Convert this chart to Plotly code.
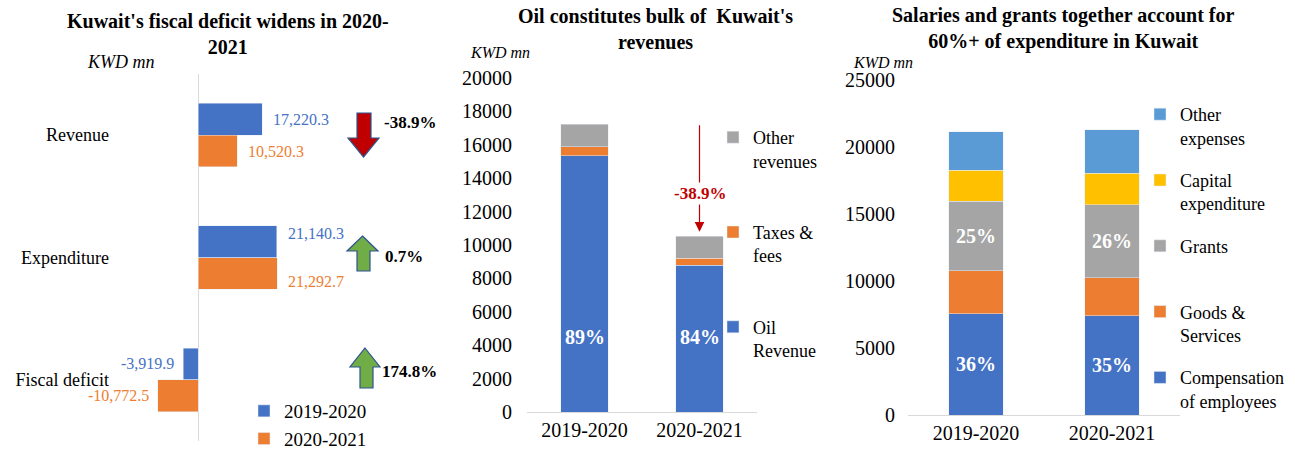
import plotly.graph_objects as go

# ---- data (KWD mn) ----
measures = ["Revenue", "Expenditure", "Fiscal deficit"]
periods = ["2019-2020", "2020-2021"]
values_1920 = [17220.3, 21140.3, -3919.9]
values_2021 = [10520.3, 21292.7, -10772.5]

# revenue composition
oil_revenue = [15330.0, 8800.0]
taxes_fees = [540.0, 420.0]
other_revenues = [1350.3, 1300.3]

# expenditure composition
compensation = [7550.0, 7400.0]
goods_services = [3200.0, 2830.0]
grants = [5200.0, 5450.0]
capital_exp = [2330.0, 2380.0]
other_expenses = [2860.3, 3232.7]

# ---- styling ----
W, H = 1295, 450
FONT = "Liberation Serif, Times New Roman, serif"
BLUE = "#4472C4"
ORANGE = "#ED7D31"
GRAY = "#A5A5A5"
GOLD = "#FFC000"
LBLUE = "#5B9BD5"
RED = "#C00000"
GREEN = "#70AD47"
OUTLINE = "#2F528F"
AXIS = "#D9D9D9"


def fx(p):
    return p / W


def fy(p):
    return 1 - p / H


def pct(part, whole):
    return [f"{round(a / b * 100)}%" for a, b in zip(part, whole)]


rev_total = [a + b + c for a, b, c in zip(oil_revenue, taxes_fees, other_revenues)]
exp_total = [a + b + c + d + e for a, b, c, d, e in
             zip(compensation, goods_services, grants, capital_exp, other_expenses)]

fig = go.Figure()

# ---- left panel: grouped horizontal bars ----
BAR_T = 0.26
fig.add_trace(go.Bar(y=measures, x=values_1920, orientation="h", name=periods[0],
                     marker_color=BLUE, offset=-BAR_T, width=BAR_T,
                     xaxis="x", yaxis="y", legend="legend", hoverinfo="skip"))
fig.add_trace(go.Bar(y=measures, x=values_2021, orientation="h", name=periods[1],
                     marker_color=ORANGE, offset=0, width=BAR_T,
                     xaxis="x", yaxis="y4", legend="legend", hoverinfo="skip"))

# ---- middle panel: revenue stack (legend lists top segment first) ----
W2 = 0.41
fig.add_trace(go.Bar(x=periods, y=oil_revenue, name="Oil<br>Revenue", marker_color=BLUE,
                     width=W2, xaxis="x2", yaxis="y2", legend="legend2",
                     legendgroup="oil", legendrank=3, hoverinfo="skip"))
fig.add_trace(go.Bar(x=periods, y=taxes_fees, name="Taxes &<br>fees", marker_color=ORANGE,
                     width=W2, xaxis="x2", yaxis="y2", legend="legend2",
                     legendgroup="tax", legendrank=2, hoverinfo="skip"))
fig.add_trace(go.Bar(x=periods, y=other_revenues, name="Other<br>revenues", marker_color=GRAY,
                     width=W2, xaxis="x2", yaxis="y2", legend="legend2",
                     legendgroup="oth", legendrank=1, hoverinfo="skip"))

# ---- right panel: expenditure stack ----
W3 = 0.40
inside_font = dict(family=FONT, size=20, color="white")
fig.add_trace(go.Bar(x=periods, y=compensation, name="Compensation<br>of employees",
                     marker_color=BLUE, width=W3, xaxis="x3", yaxis="y3",
                     text=[f"<b>{t}</b>" for t in pct(compensation, exp_total)],
                     textposition="inside", insidetextanchor="middle", textangle=0,
                     textfont=inside_font, legend="legend3", legendgroup="c",
                     legendrank=5, hoverinfo="skip"))
fig.add_trace(go.Bar(x=periods, y=goods_services, name="Goods &<br>Services",
                     marker_color=ORANGE, width=W3, xaxis="x3", yaxis="y3",
                     legend="legend3", legendgroup="g", legendrank=4, hoverinfo="skip"))
fig.add_trace(go.Bar(x=periods, y=grants, name="Grants<br>\u00a0",
                     marker_color=GRAY, width=W3, xaxis="x3", yaxis="y3",
                     text=[f"<b>{t}</b>" for t in pct(grants, exp_total)],
                     textposition="inside", insidetextanchor="middle", textangle=0,
                     textfont=inside_font, legend="legend3", legendgroup="gr",
                     legendrank=3, hoverinfo="skip"))
fig.add_trace(go.Bar(x=periods, y=capital_exp, name="Capital<br>expenditure",
                     marker_color=GOLD, width=W3, xaxis="x3", yaxis="y3",
                     legend="legend3", legendgroup="k", legendrank=2, hoverinfo="skip"))
fig.add_trace(go.Bar(x=periods, y=other_expenses, name="Other<br>expenses",
                     marker_color=LBLUE, width=W3, xaxis="x3", yaxis="y3",
                     legend="legend3", legendgroup="o", legendrank=1, hoverinfo="skip"))

annotations = []
shapes = []

# titles
title_font = dict(family=FONT, size=20, color="black")
for text, cx, cy in [
    ("<b>Kuwait's fiscal deficit widens in 2020-<br>2021</b>", 228, 34),
    ("<b>Oil constitutes bulk of  Kuwait's<br>revenues</b>", 655, 29),
    ("<b>Salaries and grants together account for<br>60%+ of expenditure in Kuwait</b>", 1063, 29),
]:
    annotations.append(dict(text=text, x=fx(cx), y=fy(cy), xref="paper", yref="paper",
                            xanchor="center", yanchor="middle", showarrow=False,
                            font=title_font))

# unit labels
for cx, cy, size in [(121, 62, 18), (500, 53, 16), (883, 62, 16)]:
    annotations.append(dict(text="<i>KWD mn</i>", x=fx(cx), y=fy(cy), xref="paper",
                            yref="paper", xanchor="center", yanchor="middle",
                            showarrow=False, font=dict(family=FONT, size=size, color="black")))

# left panel value labels
label_shift = {"Expenditure": 24}
for vals, color, sign in [(values_1920, BLUE, 1), (values_2021, ORANGE, -1)]:
    for m, v in zip(measures, vals):
        dy = label_shift.get(m, 16)
        annotations.append(dict(
            text=f"{v:,.1f}", x=v, y=m, xref="x", yref="y",
            xanchor="left" if v >= 0 else "right",
            xshift=9 if v >= 0 else -7, yshift=sign * dy, showarrow=False,
            font=dict(family=FONT, size=16, color=color)))


# change arrows and percentages on the left panel
def block_arrow(xl, xr, yt, yb, sl, sr, neck, up, fill):
    xc = (xl + xr) / 2
    if up:
        pts = [(xc, yt), (xr, neck), (sr, neck), (sr, yb), (sl, yb), (sl, neck), (xl, neck)]
    else:
        pts = [(xc, yb), (xr, neck), (sr, neck), (sr, yt), (sl, yt), (sl, neck), (xl, neck)]
    path = "M " + " L ".join(f"{fx(a):.5f},{fy(b):.5f}" for a, b in pts) + " Z"
    return dict(type="path", path=path, xref="paper", yref="paper",
                fillcolor=fill, line=dict(color=OUTLINE, width=1.2), layer="above")


changes = [(b / a - 1) * 100 for a, b in zip(values_1920, values_2021)]
arrow_geo = [
    (348, 379, 113, 157, 357, 371, 138, 123, 382),
    (347, 378, 236, 271, 357, 370, 251, 256, 383),
    (350, 380, 348, 388, 360, 373, 367, 371, 380),
]
for ch, (xl, xr, yt, yb, sl, sr, neck, ty, tx) in zip(changes, arrow_geo):
    up = ch > 0
    shapes.append(block_arrow(xl, xr, yt, yb, sl, sr, neck, up, GREEN if up else RED))
    annotations.append(dict(text=f"<b>{ch:.1f}%</b>", x=fx(tx), y=fy(ty), xref="paper",
                            yref="paper", xanchor="left", yanchor="middle",
                            showarrow=False, font=dict(family=FONT, size=17, color="black")))

# middle panel: oil share labels
for p, t in zip(periods, pct(oil_revenue, rev_total)):
    annotations.append(dict(text=f"<b>{t}</b>", x=p, y=4500, xref="x2", yref="y2",
                            showarrow=False, font=dict(family=FONT, size=20, color="white")))

# middle panel: revenue change arrow
rev_change = (rev_total[1] / rev_total[0] - 1) * 100
annotations.append(dict(text="", x=periods[1], y=10800, xref="x2", yref="y2",
                        ax=0, ay=-108, showarrow=True, arrowhead=2, arrowsize=1.6,
                        arrowwidth=1.2, arrowcolor=RED))
annotations.append(dict(text=f"<b>{rev_change:.1f}%</b>", x=periods[1], y=13100,
                        xref="x2", yref="y2", showarrow=False, bgcolor="white",
                        font=dict(family=FONT, size=17, color=RED)))

tick_font = dict(family=FONT, size=20, color="black")
legend_common = dict(bgcolor="rgba(0,0,0,0)", xanchor="left", yanchor="top",
                     valign="top", itemclick=False, itemdoubleclick=False)

fig.update_layout(
    width=W, height=H,
    margin=dict(l=0, r=0, t=0, b=0, autoexpand=False),
    paper_bgcolor="white", plot_bgcolor="white",
    font=dict(family=FONT, color="black"),
    barmode="stack",
    # left panel axes
    xaxis=dict(domain=[fx(110), fx(440)], range=[(110 - 198) / 0.00373, (440 - 198) / 0.00373],
               showticklabels=False, showgrid=False, zeroline=True, zerolinecolor=AXIS,
               zerolinewidth=1, showline=False, ticks="", fixedrange=True),
    yaxis=dict(domain=[fy(441), fy(74)], type="category", categoryarray=measures,
               range=[2.5, -0.5], showgrid=False, zeroline=False, showline=False,
               ticks="", tickfont=dict(family=FONT, size=18, color="black"),
               anchor="x", fixedrange=True),
    yaxis4=dict(overlaying="y", type="category", categoryarray=measures,
                range=[2.5, -0.5], visible=False, anchor="x"),
    # middle panel axes
    xaxis2=dict(domain=[fx(527), fx(757)], anchor="y2", type="category",
                showgrid=False, showline=True, linecolor=AXIS, linewidth=1,
                ticks="", tickfont=tick_font, fixedrange=True),
    yaxis2=dict(domain=[fy(412), fy(78)], anchor="x2", range=[0, 20000], dtick=2000,
                tickformat="d", showgrid=False, zeroline=False, showline=False, ticks="",
                tickfont=tick_font, ticklabelstandoff=14, fixedrange=True),
    # right panel axes
    xaxis3=dict(domain=[fx(908), fx(1180)], anchor="y3", type="category",
                showgrid=False, showline=True, linecolor=AXIS, linewidth=1,
                ticks="", tickfont=tick_font, fixedrange=True),
    yaxis3=dict(domain=[fy(415), fy(80)], anchor="x3", range=[0, 25000], dtick=5000,
                tickformat="d", showgrid=False, zeroline=False, showline=False, ticks="",
                tickfont=tick_font, ticklabelstandoff=12, fixedrange=True),
    legend=dict(x=fx(244), y=fy(392), font=dict(family=FONT, size=19, color="black"),
                traceorder="normal", **legend_common),
    legend2=dict(x=fx(713), y=fy(119), font=dict(family=FONT, size=18, color="black"),
                 traceorder="grouped", tracegroupgap=45, **legend_common),
    legend3=dict(x=fx(1140), y=fy(96), font=dict(family=FONT, size=18, color="black"),
                 traceorder="grouped", tracegroupgap=16, **legend_common),
    annotations=annotations,
    shapes=shapes,
    showlegend=True,
)

fig.write_html("out.html", config={"displayModeBar": False})
